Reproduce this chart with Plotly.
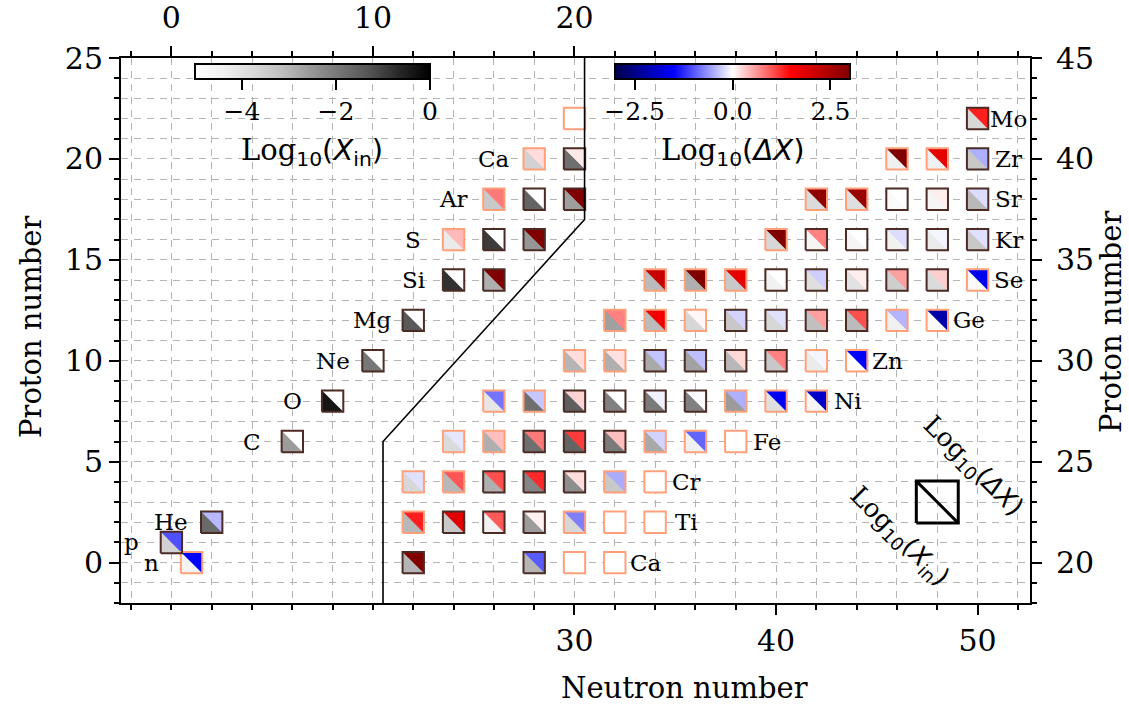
import plotly.graph_objects as go
from plotly.colors import sample_colorscale

# ---------------- data ----------------
# Light nuclei: neutron number on the top axis, proton number on the left axis
light_N = [1, 0, 2, 6, 8, 10, 12, 14, 16, 14, 16, 18, 16, 18, 20, 18, 20, 20]
light_Z = [0, 1, 2, 6, 8, 10, 12, 14, 14, 16, 16, 16, 18, 18, 18, 20, 20, 22]
light_log_xin = [-4.5, -3.6, -1.7, -2.6, -0.35, -1.95, -1.4, -0.8, -2.9, -4.25, -0.95, -2.5,
                 -3.4, -1.6, -2.65, -3.6, -1.8, -5.0]
light_log_dx = [-1.5, -1.03, -0.41, 0.0, 0.0, 0.0, 0.0, 0.0, 3.0, 0.41, 0.0, 3.0,
                0.79, 0.0, 3.0, 0.2, 0.13, 0.0]
light_edge = ['L', 'D', 'D', 'D', 'D', 'D', 'D', 'D', 'D', 'L', 'D', 'D', 'L', 'D', 'D', 'L', 'D', 'L']

# Heavy nuclei: neutron number on the bottom axis, proton number on the right axis
heavy_N = [22, 28, 30, 32,
           22, 24, 26, 28, 30, 32, 34,
           22, 24, 26, 28, 30, 32, 34,
           24, 26, 28, 30, 32, 34, 36, 38,
           26, 28, 30, 32, 34, 36, 38, 40, 42,
           30, 32, 34, 36, 38, 40, 42, 44,
           32, 34, 36, 38, 40, 42, 44, 46, 48,
           34, 36, 38, 40, 42, 44, 46, 48, 50,
           40, 42, 44, 46, 48, 50,
           42, 44, 46, 48, 50,
           46, 48, 50,
           50]
heavy_Z = [20, 20, 20, 20,
           22, 22, 22, 22, 22, 22, 22,
           24, 24, 24, 24, 24, 24, 24,
           26, 26, 26, 26, 26, 26, 26, 26,
           28, 28, 28, 28, 28, 28, 28, 28, 28,
           30, 30, 30, 30, 30, 30, 30, 30,
           32, 32, 32, 32, 32, 32, 32, 32, 32,
           34, 34, 34, 34, 34, 34, 34, 34, 34,
           36, 36, 36, 36, 36, 36,
           38, 38, 38, 38, 38,
           40, 40, 40,
           42]
heavy_log_xin = [-3.0, -3.0, -5.0, -5.0,
                 -3.05, -3.37, -4.4, -2.6, -3.7, -5.0, -5.0,
                 -3.7, -3.05, -2.9, -2.2, -2.35, -3.37, -5.0,
                 -3.8, -2.9, -1.8, -1.6, -2.0, -2.8, -4.4, -5.0,
                 -4.1, -1.8, -1.5, -2.1, -2.0, -2.1, -2.6, -3.9, -4.6,
                 -3.0, -2.9, -2.8, -2.7, -3.05, -3.37, -4.25, -4.9,
                 -2.66, -3.1, -3.7, -3.37, -3.7, -3.2, -3.1, -4.4, -4.8,
                 -3.1, -2.9, -3.37, -4.4, -3.9, -4.0, -3.5, -3.8, -4.8,
                 -3.7, -4.6, -4.6, -4.4, -4.25, -3.37,
                 -3.8, -3.9, -4.8, -4.6, -3.06,
                 -4.38, -4.4, -3.37,
                 -3.73]
heavy_log_dx = [3.0, -0.97, 0.0, 0.0,
                1.32, 1.85, 0.97, 0.08, -0.76, 0.0, 0.0,
                -0.18, 1.0, 1.03, 1.26, 0.2, -0.5, 0.0,
                -0.15, 0.38, 0.79, 1.15, 0.38, -0.26, -0.91, 0.0,
                -0.82, -0.33, 0.26, 0.0, -0.09, -0.02, -0.47, -1.58, -1.96,
                0.2, 0.18, -0.35, -0.38, 0.23, 0.74, -0.06, -1.5,
                0.74, 1.68, 0.05, -0.26, -0.18, 0.56, 1.03, -0.44, -2.21,
                2.15, 3.0, 1.8, 0.0, -0.29, 0.1, 0.56, 0.29, -1.63,
                3.0, 0.74, 0.0, -0.2, -0.06, -0.18,
                2.8, 2.7, 0.0, 0.1, -0.2,
                3.0, 1.79, -0.47,
                1.32]
heavy_edge = ['D', 'D', 'L', 'L',
              'L', 'D', 'D', 'D', 'L', 'L', 'L',
              'L', 'L', 'D', 'D', 'D', 'L', 'L',
              'L', 'L', 'D', 'D', 'D', 'L', 'L', 'L',
              'L', 'L', 'D', 'D', 'D', 'D', 'L', 'L', 'L',
              'L', 'L', 'D', 'D', 'D', 'D', 'L', 'L',
              'L', 'L', 'L', 'D', 'D', 'D', 'D', 'L', 'L',
              'L', 'L', 'L', 'D', 'D', 'D', 'D', 'D', 'L',
              'L', 'D', 'D', 'D', 'D', 'D',
              'L', 'L', 'D', 'D', 'D',
              'L', 'L', 'D',
              'D']

light_label_text = ['n', 'p', 'He', 'C', 'O', 'Ne', 'Mg', 'Si', 'S', 'Ar', 'Ca']
light_label_N = [1, 0, 2, 6, 8, 10, 12, 14, 14, 16, 18]
light_label_Z = [0, 1, 2, 6, 8, 10, 12, 14, 16, 18, 20]
heavy_label_text = ['Ca', 'Ti', 'Cr', 'Fe', 'Ni', 'Zn', 'Ge', 'Se', 'Kr', 'Sr', 'Zr', 'Mo']
heavy_label_N = [32, 34, 34, 38, 42, 44, 48, 50, 50, 50, 50, 50]
heavy_label_Z = [20, 22, 24, 26, 28, 30, 32, 34, 36, 38, 40, 42]

# boundary between the light (top/left axes) and heavy (bottom/right axes) regions, light coords
boundary_N = [10.5, 10.5, 20.5, 20.5]
boundary_Z = [-2, 6, 17, 25]

# key square (heavy coords)
key_N = 48
key_Z = 23

xin_range = (-5, 0)
dx_range = (-3, 3)

# ---------------- styles ----------------
FONT = "DejaVu Serif"
GREYS = [[i / 8, c] for i, c in enumerate([
    'rgb(255,255,255)', 'rgb(240,240,240)', 'rgb(217,217,217)', 'rgb(189,189,189)',
    'rgb(150,150,150)', 'rgb(115,115,115)', 'rgb(82,82,82)', 'rgb(37,37,37)', 'rgb(0,0,0)'])]
SEISMIC = [[0.0, 'rgb(0,0,77)'], [0.25, 'rgb(0,0,255)'], [0.5, 'rgb(255,255,255)'],
           [0.75, 'rgb(255,0,0)'], [1.0, 'rgb(128,0,0)']]
EDGE = {'D': '#4b2b24', 'L': '#ffa07a'}
H = 0.53           # half size of a nuclide square (axis units)
KEY_H = 1.04
GRID = dict(gridcolor='#b4b4b4', gridwidth=1, griddash='7px,6px')

W, HT = 1129, 705
L, R, T, B = 121, 99, 58, 102


def to_colors(vals, scale, rng):
    pts = [min(max((v - rng[0]) / (rng[1] - rng[0]), 0), 1) for v in vals]
    return sample_colorscale(scale, pts)


fig = go.Figure()


def add_nuclides(Ns, Zs, xin, dx, edges, xa, ya):
    gcols = to_colors(xin, GREYS, xin_range)
    scols = to_colors(dx, SEISMIC, dx_range)
    for n, z, gc, sc in zip(Ns, Zs, gcols, scols):
        fig.add_trace(go.Scatter(
            x=[n - H, n + H, n + H, n - H, n - H], y=[z - H, z - H, z + H, z + H, z - H],
            xaxis=xa, yaxis=ya, mode='lines', fill='toself', fillcolor=gc,
            line=dict(width=0, color=gc), hoverinfo='skip', showlegend=False))
        fig.add_trace(go.Scatter(
            x=[n - H, n + H, n + H, n - H], y=[z + H, z + H, z - H, z + H],
            xaxis=xa, yaxis=ya, mode='lines', fill='toself', fillcolor=sc,
            line=dict(width=0, color=sc), hoverinfo='skip', showlegend=False))
    for kind in ('L', 'D'):
        ex, ey = [], []
        for n, z, e in zip(Ns, Zs, edges):
            if e != kind:
                continue
            ex += [n - H, n + H, n + H, n - H, n - H, None]
            ey += [z - H, z - H, z + H, z + H, z - H, None]
        fig.add_trace(go.Scatter(x=ex, y=ey, xaxis=xa, yaxis=ya, mode='lines',
                                 line=dict(color=EDGE[kind], width=2),
                                 hoverinfo='skip', showlegend=False))


add_nuclides(light_N, light_Z, light_log_xin, light_log_dx, light_edge, 'x2', 'y')
add_nuclides(heavy_N, heavy_Z, heavy_log_xin, heavy_log_dx, heavy_edge, 'x', 'y2')

# boundary line
fig.add_trace(go.Scatter(x=boundary_N, y=boundary_Z, xaxis='x2', yaxis='y', mode='lines',
                         line=dict(color='black', width=1.6), hoverinfo='skip', showlegend=False))

# key square
kx = [key_N - KEY_H, key_N + KEY_H, key_N + KEY_H, key_N - KEY_H, key_N - KEY_H, None,
      key_N - KEY_H, key_N + KEY_H]
ky = [key_Z - KEY_H, key_Z - KEY_H, key_Z + KEY_H, key_Z + KEY_H, key_Z - KEY_H, None,
      key_Z + KEY_H, key_Z - KEY_H]
fig.add_trace(go.Scatter(x=kx, y=ky, xaxis='x', yaxis='y2', mode='lines',
                         line=dict(color='black', width=3), hoverinfo='skip', showlegend=False))


def px_x(p):
    return (p - L) / (W - L - R)


def px_y(p):
    return (HT - B - p) / (HT - T - B)


# colorbars (dummy invisible traces)
cb_common = dict(orientation='h', lenmode='pixels', len=235, thickness=15,
                 xanchor='left', yanchor='top', xpad=0, ypad=0,
                 outlinewidth=2, outlinecolor='black',
                 ticks='outside', ticklen=10, tickwidth=2, tickcolor='black',
                 tickfont=dict(family=FONT, size=25, color='black'))
fig.add_trace(go.Scatter(
    x=[30], y=[-50], xaxis='x', yaxis='y', mode='markers', hoverinfo='skip', showlegend=False,
    marker=dict(color=[0], colorscale=GREYS, cmin=xin_range[0], cmax=xin_range[1], opacity=0,
                showscale=True,
                colorbar=dict(x=px_x(195), y=px_y(64), tickvals=[-4, -2, 0],
                              ticktext=['\u22124', '\u22122', '0'], **cb_common))))
fig.add_trace(go.Scatter(
    x=[30], y=[-50], xaxis='x', yaxis='y', mode='markers', hoverinfo='skip', showlegend=False,
    marker=dict(color=[0], colorscale=SEISMIC, cmin=dx_range[0], cmax=dx_range[1], opacity=0,
                showscale=True,
                colorbar=dict(x=px_x(615), y=px_y(64), tickvals=[-2.5, 0, 2.5],
                              ticktext=['\u22122.5', '0.0', '2.5'], **cb_common))))

ann = []
LBL = dict(family=FONT, size=23, color='black')
for t, n, z in zip(light_label_text, light_label_N, light_label_Z):
    ann.append(dict(x=n - 2, y=z, xref='x2', yref='y', text=t, showarrow=False,
                    xanchor='center', yanchor='middle', font=LBL))
for t, n, z in zip(heavy_label_text, heavy_label_N, heavy_label_Z):
    ann.append(dict(x=n + 1.55, y=z, xref='x', yref='y2', text=t, showarrow=False,
                    xanchor='center', yanchor='middle', font=LBL))

SANS = 'font-family:DejaVu Sans'
t_xin = 'Log<span style="%s"><sub>10</sub>(<i>X</i><sub>in</sub>)</span>' % SANS
t_dx = 'Log<span style="%s"><sub>10</sub>(<i>ΔX</i>)</span>' % SANS
TF = dict(family=FONT, size=29, color='black')
KF = dict(family=FONT, size=26, color='black')
ann.append(dict(x=px_x(312), y=px_y(152), xref='paper', yref='paper', text=t_xin,
                showarrow=False, xanchor='center', yanchor='middle', font=TF))
ann.append(dict(x=px_x(732), y=px_y(152), xref='paper', yref='paper', text=t_dx,
                showarrow=False, xanchor='center', yanchor='middle', font=TF))
ann.append(dict(x=px_x(973), y=px_y(466), xref='paper', yref='paper', text=t_dx,
                showarrow=False, xanchor='center', yanchor='middle', font=KF, textangle=45))
ann.append(dict(x=px_x(899), y=px_y(536), xref='paper', yref='paper', text=t_xin,
                showarrow=False, xanchor='center', yanchor='middle', font=KF, textangle=45))

AX = dict(family=FONT, size=29, color='black')
ann.append(dict(x=px_x(684), y=px_y(688), xref='paper', yref='paper', text='Neutron number',
                showarrow=False, xanchor='center', yanchor='middle', font=AX))
ann.append(dict(x=px_x(31), y=px_y(327), xref='paper', yref='paper', text='Proton number',
                showarrow=False, xanchor='center', yanchor='middle', font=AX, textangle=-90))
ann.append(dict(x=px_x(1111), y=px_y(322), xref='paper', yref='paper', text='Proton number',
                showarrow=False, xanchor='center', yanchor='middle', font=AX, textangle=-90))

TICKF = dict(family=FONT, size=30, color='black')
base_axis = dict(showline=True, linecolor='black', linewidth=2, ticks='outside', ticklen=10,
                 tickwidth=2, tickcolor='black', tickfont=TICKF, zeroline=False, mirror=False,
                 automargin=False)

fig.update_layout(
    width=W, height=HT, margin=dict(l=L, r=R, t=T, b=B, autoexpand=False),
    paper_bgcolor='white', plot_bgcolor='white', showlegend=False,
    xaxis=dict(range=[7.5, 52.6], side='bottom', tickmode='array', tickvals=[30, 40, 50],
               showgrid=True, **GRID,
               minor=dict(tick0=0, dtick=2, ticks='outside', ticklen=5, tickwidth=1.5,
                          tickcolor='black', showgrid=True, **GRID),
               **base_axis),
    xaxis2=dict(range=[-2.5, 42.6], side='top', overlaying='x', anchor='y', tickmode='array',
                tickvals=[0, 10, 20], showgrid=False, ticklabelstandoff=6,
                minor=dict(tick0=0, dtick=2, ticks='outside', ticklen=5, tickwidth=1.5,
                           tickcolor='black', showgrid=False),
                **base_axis),
    yaxis=dict(range=[-2, 25], side='left', tickmode='array', tickvals=[0, 5, 10, 15, 20, 25],
               showgrid=True, **GRID,
               minor=dict(tick0=0, dtick=1, ticks='outside', ticklen=5, tickwidth=1.5,
                          tickcolor='black', showgrid=True, **GRID),
               **base_axis),
    yaxis2=dict(range=[18, 45], side='right', overlaying='y', anchor='x', tickmode='array',
                tickvals=[20, 25, 30, 35, 40, 45], showgrid=False, ticklabelstandoff=8,
                minor=dict(tick0=0, dtick=1, ticks='outside', ticklen=5, tickwidth=1.5,
                           tickcolor='black', showgrid=False),
                **base_axis),
    annotations=ann,
)

fig.write_html("out.html", config={'displayModeBar': False},
               post_script="document.body.style.margin='0px';document.body.style.overflow='hidden';")
